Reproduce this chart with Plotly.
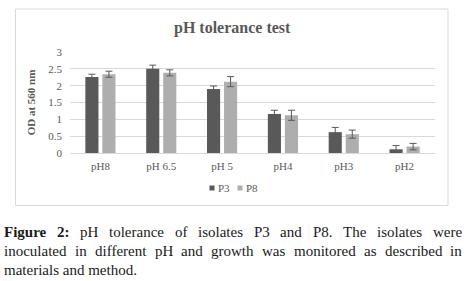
import plotly.graph_objects as go

# ---------------- data ----------------
categories = ["pH8", "pH 6.5", "pH 5", "pH4", "pH3", "pH2"]
p3_values = [2.26, 2.50, 1.90, 1.16, 0.62, 0.11]
p8_values = [2.34, 2.38, 2.12, 1.12, 0.56, 0.19]
p3_errors = [0.08, 0.11, 0.09, 0.11, 0.14, 0.11]
p8_errors = [0.09, 0.09, 0.15, 0.15, 0.12, 0.095]
series_names = ["P3", "P8"]
y_ticks = [0, 0.5, 1, 1.5, 2, 2.5, 3]
y_tick_labels = ["0", "0.5", "1", "1.5", "2", "2.5", "3"]
chart_title = "pH tolerance test"
y_title = "OD at 560 nm"
caption_lines = [
    ["<b>Figure</b>", "<b>2:</b>", "pH", "tolerance", "of", "isolates", "P3", "and",
     "P8.", "The", "isolates", "were"],
    ["inoculated", "in", "different", "pH", "and", "growth", "was", "monitored",
     "as", "described", "in"],
    ["materials and method."],
]

# ---------------- style ----------------
W, H = 465, 281
ML, MR, MT, MB = 70, 30, 52, 128
PW, PH = W - ML - MR, H - MT - MB
DARK = "#595959"
LIGHT = "#AEAEAE"
GRID = "#D9D9D9"
SERIF = "Liberation Serif"


def xp(px):
    return (px - ML) / PW


def yp(py):
    return (H - MB - py) / PH


# Times metrics (Liberation Serif is metric compatible) for justification
REG = {' ': 250, 'a': 444, 'b': 500, 'c': 444, 'd': 500, 'e': 444, 'f': 333, 'g': 500,
       'h': 500, 'i': 278, 'j': 278, 'k': 500, 'l': 278, 'm': 778, 'n': 500, 'o': 500,
       'p': 500, 'q': 500, 'r': 333, 's': 389, 't': 278, 'u': 500, 'v': 500, 'w': 722,
       'x': 500, 'y': 500, 'z': 444, 'F': 556, 'H': 722, 'P': 556, 'T': 611,
       '2': 500, '3': 500, '8': 500, ':': 278, '.': 250}
BOLD = {' ': 250, 'F': 611, 'i': 278, 'g': 500, 'u': 556, 'r': 444, 'e': 444,
        '2': 500, ':': 333}


def word_width(word, size):
    if word.startswith("<b>"):
        w = word[3:-4]
        return sum(BOLD.get(c, 500) for c in w) * size / 1000
    return sum(REG.get(c, 500) for c in word) * size / 1000


fig = go.Figure()
fig.add_trace(go.Bar(
    name=series_names[0], x=categories, y=p3_values, marker_color=DARK,
    error_y=dict(type="data", array=p3_errors, color=DARK, thickness=1, width=3.5),
    showlegend=False))
fig.add_trace(go.Bar(
    name=series_names[1], x=categories, y=p8_values, marker_color=LIGHT,
    error_y=dict(type="data", array=p8_errors, color=DARK, thickness=1, width=3.5),
    showlegend=False))

annotations = []
shapes = []

# chart frame
shapes.append(dict(type="rect", xref="paper", yref="paper",
                   x0=xp(15.5), x1=xp(448), y0=yp(205.5), y1=yp(9),
                   line=dict(color=GRID, width=1), fillcolor="rgba(0,0,0,0)", layer="below"))

# title
annotations.append(dict(text="<b>" + chart_title + "</b>", xref="paper", yref="paper",
                        x=xp(232), y=yp(28), xanchor="center", yanchor="middle",
                        showarrow=False, font=dict(family=SERIF, size=16, color=DARK)))

# legend (compact, like the original)
legend_colors = [DARK, LIGHT]
legend_sq_x = [212, 240]
for name, col, sx in zip(series_names, legend_colors, legend_sq_x):
    shapes.append(dict(type="rect", xref="paper", yref="paper",
                       x0=xp(sx - 2.5), x1=xp(sx + 2.5), y0=yp(190.5), y1=yp(185.5),
                       line=dict(width=0), fillcolor=col))
    annotations.append(dict(text=name, xref="paper", yref="paper", x=xp(sx + 4),
                            y=yp(188), xanchor="left", yanchor="middle", showarrow=False,
                            font=dict(family=SERIF, size=11, color=DARK)))

# caption, justified like the original
CAP_SIZE = 15
left, right = 3, 461
line_mid = [232, 251, 270]
for i, words in enumerate(caption_lines):
    if i < len(caption_lines) - 1:
        widths = [word_width(w, CAP_SIZE) for w in words]
        gap = (right - left - sum(widths)) / (len(words) - 1)
        x = left
        for w, ww in zip(words, widths):
            annotations.append(dict(text=w, xref="paper", yref="paper", x=xp(x), y=yp(line_mid[i]),
                                    xanchor="left", yanchor="middle", showarrow=False,
                                    borderpad=0, font=dict(family=SERIF, size=CAP_SIZE, color="#1a1a1a")))
            x += ww + gap
    else:
        annotations.append(dict(text=words[0], xref="paper", yref="paper", x=xp(left), y=yp(line_mid[i]),
                                xanchor="left", yanchor="middle", showarrow=False,
                                borderpad=0, font=dict(family=SERIF, size=CAP_SIZE, color="#1a1a1a")))

fig.update_layout(
    template="none",
    width=W, height=H,
    margin=dict(l=ML, r=MR, t=MT, b=MB, pad=0),
    paper_bgcolor="white", plot_bgcolor="white",
    barmode="group", bargap=0.44, bargroupgap=0.23,
    showlegend=False,
    annotations=annotations,
    shapes=shapes,
    xaxis=dict(showgrid=False, showline=False, zeroline=False, ticks="",
               tickfont=dict(family=SERIF, size=11, color=DARK),
               ticklabelstandoff=5, automargin=False),
    yaxis=dict(range=[0, 3], tickvals=y_ticks, ticktext=y_tick_labels,
               showgrid=True, gridcolor=GRID, gridwidth=1,
               zeroline=True, zerolinecolor=GRID, zerolinewidth=1,
               showline=False, ticks="",
               tickfont=dict(family=SERIF, size=11, color=DARK),
               ticklabelstandoff=7,
               title=dict(text="<b>" + y_title + "</b>", standoff=10,
                          font=dict(family=SERIF, size=11, color=DARK)),
               automargin=False),
)

fig.write_html("out.html", config={"displayModeBar": False},
               post_script="document.body.style.margin='0';document.body.style.overflow='hidden';")
